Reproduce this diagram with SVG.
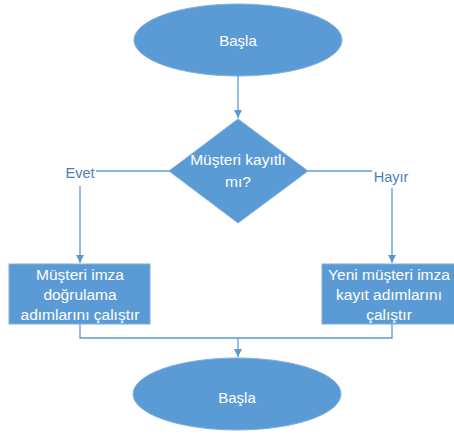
<svg xmlns="http://www.w3.org/2000/svg" width="454" height="439" viewBox="0 0 454 439">
<style>
.shape{fill:#5B9BD5;stroke:#7FB0DE;stroke-width:1}
.t{font-family:"Liberation Sans",Arial,sans-serif;font-size:15.5px;fill:#ffffff;text-anchor:middle}
.lbl{font-family:"Liberation Sans",Arial,sans-serif;font-size:14.5px;fill:#4A7EBB;text-anchor:middle}
.c{fill:none;stroke:#5B9BD5;stroke-width:1.3}
</style>
<defs>
<marker id="arr" markerWidth="10" markerHeight="10" refX="8" refY="5" orient="auto" markerUnits="userSpaceOnUse">
<path d="M0,1 L8,5 L0,9 Z" fill="#5B9BD5"/>
</marker>
</defs>
<rect width="454" height="439" fill="#ffffff"/>
<g id="connectors">
<path class="c" d="M238,76 V118" marker-end="url(#arr)"/>
<path class="c" d="M169,171 H96"/>
<path class="c" d="M80,186 V263" marker-end="url(#arr)"/>
<path class="c" d="M308,171 H372"/>
<path class="c" d="M392,188 V263" marker-end="url(#arr)"/>
<path class="c" d="M80,324 V338 H392 V324"/>
<path class="c" d="M238,338 V357" marker-end="url(#arr)"/>
</g>
<g id="start">
<ellipse class="shape" cx="238" cy="40" rx="104" ry="36"/>
<text class="t" x="238" y="46" style="font-size:15px">Başla</text>
</g>
<g id="decision">
<polygon class="shape" points="238,119 308,171 238,223 169,171"/>
<text class="t" x="238" y="165">Müşteri kayıtlı</text>
<text class="t" x="238" y="187">mı?</text>
</g>
<g id="label-evet">
<text class="lbl" x="80" y="178">Evet</text>
</g>
<g id="label-hayir">
<text class="lbl" x="391" y="182">Hayır</text>
</g>
<g id="verify">
<rect class="shape" x="9" y="264" width="141" height="60"/>
<text class="t" x="80" y="280">Müşteri imza</text>
<text class="t" x="80" y="300">doğrulama</text>
<text class="t" x="80" y="320">adımlarını çalıştır</text>
</g>
<g id="register">
<rect class="shape" x="322" y="264" width="133" height="60"/>
<text class="t" x="389" y="280">Yeni müşteri imza</text>
<text class="t" x="389" y="300">kayıt adımlarını</text>
<text class="t" x="389" y="320">çalıştır</text>
</g>
<g id="end">
<ellipse class="shape" cx="237" cy="394" rx="104" ry="36"/>
<text class="t" x="237" y="403" style="font-size:15px">Başla</text>
</g>
</svg>
